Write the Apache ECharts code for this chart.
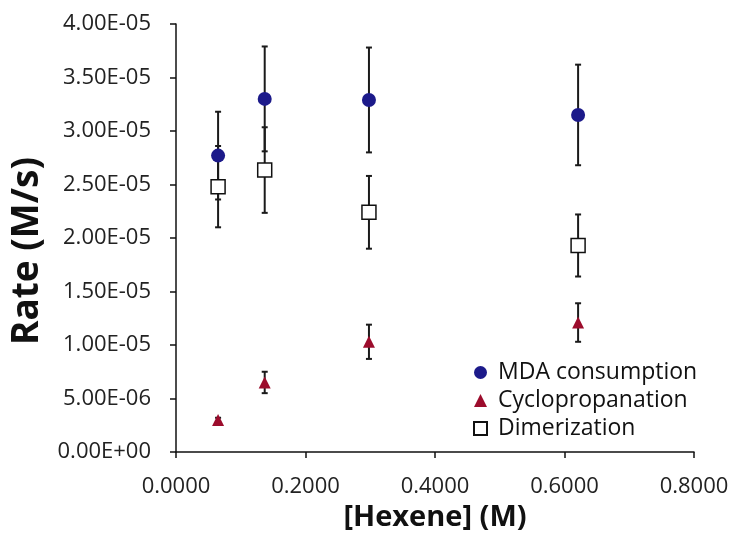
<!DOCTYPE html>
<html>
<head>
<meta charset="utf-8">
<script src="https://cdn.jsdelivr.net/npm/echarts@6/dist/echarts.min.js"></script>
<style>
html,body{margin:0;padding:0;background:#fff;}
#chart{width:732px;height:533px;}
</style>
</head>
<body>
<div id="chart"></div>
<script>
// ---- data ----
const hexene = [0.065, 0.137, 0.298, 0.621];
const mdaRate = [2.77e-5, 3.30e-5, 3.29e-5, 3.15e-5];
const mdaErr = [0.41e-5, 0.49e-5, 0.49e-5, 0.47e-5];
const cycloRate = [0.30e-5, 0.65e-5, 1.03e-5, 1.21e-5];
const cycloErr = [0.02e-5, 0.10e-5, 0.16e-5, 0.18e-5];
const dimerRate = [2.48e-5, 2.635e-5, 2.24e-5, 1.93e-5];
const dimerErr = [0.38e-5, 0.40e-5, 0.34e-5, 0.29e-5];
const xTickLabels = ['0.0000', '0.2000', '0.4000', '0.6000', '0.8000'];
const yTickLabels = ['0.00E+00', '5.00E-06', '1.00E-05', '1.50E-05', '2.00E-05', '2.50E-05', '3.00E-05', '3.50E-05', '4.00E-05'];
const seriesNames = ['MDA consumption', 'Cyclopropanation', 'Dimerization'];

const FONT = 'Open Sans';

function pts(ys) { return hexene.map((x, i) => [x, ys[i]]); }
function errs(ys, es) { return hexene.map((x, i) => [x, ys[i] - es[i], ys[i] + es[i]]); }

function errRender(params, api) {
  const x = api.value(0), lo = api.value(1), hi = api.value(2);
  const a = api.coord([x, hi]), b = api.coord([x, lo]);
  const w = 3;
  const st = { stroke: '#1a1a1a', lineWidth: 2 };
  return {
    type: 'group',
    children: [
      { type: 'line', shape: { x1: a[0], y1: a[1], x2: b[0], y2: b[1] }, style: st },
      { type: 'line', shape: { x1: a[0] - w, y1: a[1], x2: a[0] + w, y2: a[1] }, style: st },
      { type: 'line', shape: { x1: b[0] - w, y1: b[1], x2: b[0] + w, y2: b[1] }, style: st }
    ]
  };
}

function errSeries(ys, es) {
  return {
    type: 'custom', renderItem: errRender, data: errs(ys, es), z: 1,
    encode: { x: 0, y: [1, 2] }, silent: true
  };
}

const chart = echarts.init(document.getElementById('chart'));
chart.setOption({
  backgroundColor: '#fff',
  animation: false,
  grid: { left: 176, right: 38, top: 24, bottom: 81, containLabel: false, outerBoundsMode: 'none' },
  legend: {
    data: seriesNames,
    orient: 'vertical',
    left: 468, top: 356,
    itemWidth: 13, itemHeight: 13, itemGap: 5,
    textStyle: { fontFamily: FONT, fontSize: 23, color: '#111', padding: [0, 0, 0, 6] }
  },
  xAxis: {
    type: 'value', min: 0, max: 0.8, interval: 0.2,
    name: '[Hexene] (M)', nameLocation: 'middle', nameGap: 50,
    nameTextStyle: { fontFamily: FONT, fontSize: 29, fontWeight: 'bold', color: '#111' },
    axisLine: { lineStyle: { color: '#111', width: 1.5 } },
    axisTick: { length: 6, lineStyle: { color: '#111', width: 1.5 } },
    axisLabel: { margin: 24, fontFamily: FONT, fontSize: 22, color: '#222',
      formatter: (v, i) => xTickLabels[i] },
    splitLine: { show: false }
  },
  yAxis: {
    type: 'value', min: 0, max: 4e-5, interval: 5e-6,
    name: 'Rate (M/s)', nameLocation: 'middle', nameGap: 130,
    nameTextStyle: { fontFamily: FONT, fontSize: 37, fontWeight: 'bold', color: '#111',
      padding: [0, 26, 0, 0] },
    axisLine: { show: true, lineStyle: { color: '#111', width: 1.5 } },
    axisTick: { show: true, length: 6, lineStyle: { color: '#111', width: 1.5 } },
    axisLabel: { margin: 25, fontFamily: FONT, fontSize: 22, color: '#222',
      formatter: (v, i) => yTickLabels[i] },
    splitLine: { show: false }
  },
  series: [
    errSeries(mdaRate, mdaErr),
    errSeries(cycloRate, cycloErr),
    errSeries(dimerRate, dimerErr),
    { name: seriesNames[0], type: 'scatter', data: pts(mdaRate), z: 3,
      symbol: 'circle', symbolSize: 14,
      itemStyle: { color: '#1c1a8a', opacity: 1 } },
    { name: seriesNames[1], type: 'scatter', data: pts(cycloRate), z: 3,
      symbol: 'triangle', symbolSize: 12,
      itemStyle: { color: '#9c0c2c', opacity: 1 } },
    { name: seriesNames[2], type: 'scatter', data: pts(dimerRate), z: 3,
      symbol: 'rect', symbolSize: 14,
      itemStyle: { color: '#fff', borderColor: '#111', borderWidth: 1.5, opacity: 1 } }
  ]
});
</script>
</body>
</html>
